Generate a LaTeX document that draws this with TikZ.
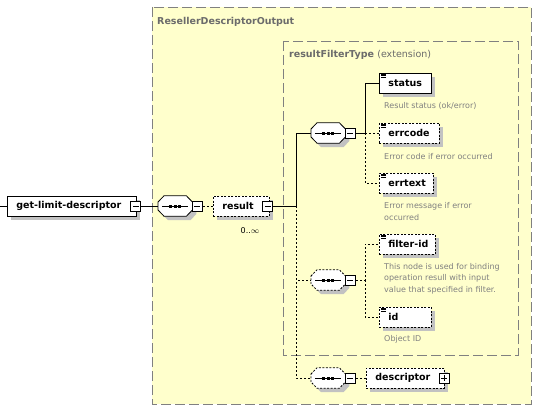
\documentclass[tikz,border=0pt]{standalone}
\usepackage{fontspec}
\setmainfont{DejaVu Sans}
\usepackage{tikz}
\usetikzlibrary{calc}
\usetikzlibrary{shadows}
\usepackage{xcolor}
\definecolor{xsdyellow}{rgb}{1.0,1.0,0.8}
\definecolor{xsdgray}{rgb}{0.5,0.5,0.5}
\definecolor{titlegray}{rgb}{0.42,0.42,0.42}
\definecolor{shadowgray}{rgb}{0.76,0.76,0.76}
\tikzset{
  groupbox/.style={draw=xsdgray, fill=xsdyellow, line width=0.9pt,
    dash pattern=on 10pt off 4pt},
  grouptitle/.style={anchor=base west, inner sep=0pt, text=titlegray,
    font=\bfseries\fontsize{9.5}{11}\selectfont},
  boxshadow/.style={drop shadow={shadow xshift=4pt, shadow yshift=-4pt,
    fill=shadowgray, opacity=1}},
  elembox/.style={draw, fill=white, line width=0.8pt, anchor=west,
    minimum height=20pt, inner xsep=9pt, inner ysep=0pt, text width=#1,
    align=left, font=\bfseries\fontsize{9.5}{11}\selectfont, boxshadow,
    execute at begin node={\hbox\bgroup}, execute at end node={\egroup}},
  optbox/.style={elembox=#1, dash pattern=on 2pt off 1.5pt},
  seqbox/.style={rectangle, anchor=west, inner sep=0pt,
    minimum width=34pt, minimum height=20pt},
  octline/.style={draw, fill=white, line width=0.8pt},
  optoct/.style={octline, dash pattern=on 2pt off 1.5pt},
  togglebox/.style={draw, solid, fill=white, line width=0.8pt, inner sep=0pt,
    minimum width=10pt, minimum height=10pt},
  minus/.style={togglebox, path picture={
      \draw[line width=0.8pt] ($(path picture bounding box.west)+(2,0)$) --
        ($(path picture bounding box.east)+(-2,0)$);}},
  plus/.style={togglebox, path picture={
      \draw[line width=0.8pt] ($(path picture bounding box.west)+(2,0)$) --
        ($(path picture bounding box.east)+(-2,0)$);
      \draw[line width=0.8pt] ($(path picture bounding box.north)+(0,2)$) --
        ($(path picture bounding box.south)+(0,-2)$);}},
  descr/.style={anchor=base west, inner sep=0pt, align=left, text=xsdgray,
    font=\fontsize{8}{11.3}\selectfont},
  mult/.style={inner sep=0pt, font=\fontsize{8}{10}\selectfont},
  conn/.style={draw, line width=0.8pt},
  optconn/.style={conn, dash pattern=on 2pt off 2pt},
}
% octagon of a sequence compositor, #2 = offset (for the shadow)
\newcommand{\octpath}[2]{%
  ($(#1.west)+(#2,#2-4)$) -- ($(#1.north west)+(6+#2,#2)$) --
  ($(#1.north east)+(-6+#2,#2)$) -- ($(#1.east)+(#2,#2-4)$) --
  ($(#1.east)+(#2,#2+4)$) -- ($(#1.south east)+(-6+#2,#2)$) --
  ($(#1.south west)+(6+#2,#2)$) -- ($(#1.west)+(#2,#2+4)$) -- cycle}
\newcommand{\seqoct}[2]{%
  \fill[shadowgray] \octpath{#1}{4};
  \path[#2] \octpath{#1}{0};
  \draw[line width=0.8pt] ($(#1.center)+(-13,0)$) -- ($(#1.center)+(13,0)$);
  \foreach \d in {-4.5,0,4.5}
    \fill ($(#1.center)+(\d-1.7,-1.5)$) rectangle ++(3.4,3);}
\newcommand{\docmark}[1]{%
  \foreach \k in {1.5,3,4.5}
    \draw[line width=0.6pt] ($(#1.north west)+(2,\k)$) -- ++(5,0);}

\begin{document}
\begin{tikzpicture}[x=1pt, y=-1pt]

%%%%%%%%%%%%%%%%%%%%%%%%%%%%%%%%%%%%%%%%%%%%%%%%%%%%%%%%%%%%%% Setup
\useasboundingbox (0,0) rectangle (540,412);

%%%%%%%%%%%%%%%%%%%%%%%%%%%%%%%%%%%%%%%%%%%%%%%%%%%%%%%%%%%%%% Groups
\draw[groupbox] (152,7) rectangle (531,404);
\node[grouptitle] (outtitle) at (157,25) {ResellerDescriptorOutput};

\draw[groupbox] (283,41) rectangle (518,355);
\node[grouptitle] (exttitle) at (289,57) {resultFilterType {\mdseries (extension)}};

%%%%%%%%%%%%%%%%%%%%%%%%%%%%%%%%%%%%%%%%%%%%%%%%%%%%%%%%%%%%%% Root
\coordinate (in) at (0,206);
\node[elembox=111pt] (gld) at (7,206) {get-limit-descriptor};
\node[minus] (gld-t) at ($(gld.east)+(-1,0)$) {};
\draw[conn] (in) -- (gld);

\node[seqbox] (seqA) at (158,206) {};
\seqoct{seqA}{octline}
\node[minus] (seqA-t) at ($(seqA.east)+(5,0)$) {};
\draw[conn] (gld-t) -- (seqA);

\node[optbox=38pt] (result) at (213,206) {result};
\node[minus] (result-t) at ($(result.east)+(-2,0)$) {};
\node[mult] (resmult) at (250,231) {0..$\infty$};
\draw[optconn] (seqA-t) -- (result);

%%%%%%%%%%%%%%%%%%%%%%%%%%%%%%%%%%%%%%%%%%%%%%%%%%%%%%%%%%%%%% Sequence status
\node[seqbox] (seqB) at (311,133) {};
\seqoct{seqB}{octline}
\node[minus] (seqB-t) at ($(seqB.east)+(5,0)$) {};

\node[elembox=34pt] (status) at (379,83) {status};
\node[optbox=42pt] (errcode) at (379,133) {errcode};
\node[optbox=36pt] (errtext) at (379,183) {errtext};
\docmark{status}
\docmark{errcode}
\docmark{errtext}

\node[descr] (status-d) at (384,108) {Result status (ok/error)};
\node[descr] (errcode-d) at (384,159) {Error code if error occurred};
\node[descr] (errtext-d) at (384,220) {Error message if error\\occurred};

\coordinate (busB) at (365,133);
\draw[conn] (seqB-t) -- (busB) |- (status);
\draw[optconn] (busB) |- (errcode);
\draw[optconn] (busB) |- (errtext);

%%%%%%%%%%%%%%%%%%%%%%%%%%%%%%%%%%%%%%%%%%%%%%%%%%%%%%%%%%%%%% Sequence filter
\node[seqbox] (seqC) at (311,280) {};
\seqoct{seqC}{optoct}
\node[minus] (seqC-t) at ($(seqC.east)+(5,0)$) {};

\node[optbox=38pt] (filterid) at (379,244) {filter-id};
\node[optbox=34pt] (id) at (379,317) {id};
\docmark{filterid}
\docmark{id}

\node[descr] (filterid-d) at (384,292) {This node is used for binding\\operation resull with input\\value that specified in filter.};
\node[descr] (id-d) at (384,341) {Object ID};

\coordinate (busC) at (365,280);
\draw[optconn] (seqC-t) -- (busC) |- (filterid);
\draw[optconn] (busC) |- (id);

%%%%%%%%%%%%%%%%%%%%%%%%%%%%%%%%%%%%%%%%%%%%%%%%%%%%%%%%%%%%%% Sequence descriptor
\node[seqbox] (seqD) at (311,378) {};
\seqoct{seqD}{optoct}
\node[minus] (seqD-t) at ($(seqD.east)+(5,0)$) {};

\node[optbox=60pt] (descriptor) at (366,378) {descriptor};
\node[plus] (descriptor-t) at ($(descriptor.east)+(-0.5,0)$) {};
\draw[optconn] (seqD-t) -- (descriptor);

%%%%%%%%%%%%%%%%%%%%%%%%%%%%%%%%%%%%%%%%%%%%%%%%%%%%%%%%%%%%%% Result bus
\coordinate (busR) at (296,206);
\draw[conn] (result-t) -- (busR) |- (seqB);
\draw[optconn] (busR) |- (seqC);
\draw[optconn] (busR) |- (seqD);

\end{tikzpicture}
\end{document}
